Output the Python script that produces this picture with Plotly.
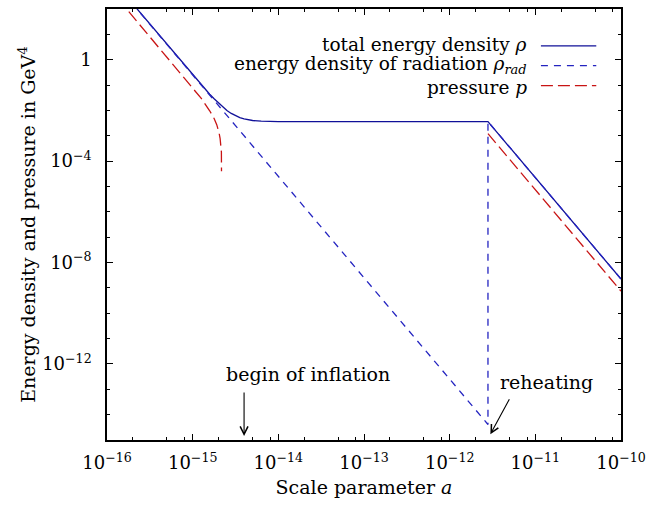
import plotly.graph_objects as go

# ---- data ----
a_total = [1e-16, 1e-15, 1.26e-15, 1.58e-15, 1.78e-15, 2.0e-15, 2.24e-15, 2.51e-15,
           2.82e-15, 3.16e-15, 3.55e-15, 3.98e-15, 4.47e-15, 5.01e-15, 6.31e-15,
           7.94e-15, 1e-14, 1.58e-14, 2.8e-12, 1e-10]
rho_total = [2.5e3, 0.255, 0.1035, 0.0434, 0.0287, 0.0195, 0.0136, 0.0099,
             0.00759, 0.00611, 0.00518, 0.0046, 0.00423, 0.0040, 0.00376,
             0.00366, 0.00362, 0.00363, 0.00363, 2.23e-9]

a_rad = [1e-16, 2.8e-12, 2.8e-12, 1e-10]
rho_rad = [2.5e3, 4.1e-15, 3.63e-3, 2.23e-9]

a_p_early = [1e-16, 6.31e-16, 1e-15, 1.26e-15, 1.58e-15, 1.78e-15, 1.91e-15, 2.0e-15,
             2.04e-15, 2.09e-15, 2.14e-15, 2.165e-15, 2.17e-15]
p_early = [838, 0.525, 0.0802, 0.0297, 0.00966, 0.00478, 0.00275, 0.00168,
           0.00122, 0.000794, 0.000408, 0.000227, 4e-5]
a_p_late = [2.8e-12, 1e-10]
p_late = [1.21e-3, 7.43e-10]

x_tick_exp = [-16, -15, -14, -13, -12, -11, -10]
y_tick_exp = [0, -4, -8, -12]
x_minor_mult = [2, 5, 8]

legend_labels = ["total energy density <i>ρ</i>",
                 "energy density of radiation <i>ρ<sub>rad</sub></i>",
                 "pressure <i>p</i>"]

C_TOT = "#101098"
C_RAD = "#2424c0"
C_P = "#c81414"
FONT = "DejaVu Serif"
FS = 19
FS_TICK = 18

fig = go.Figure()
fig.add_trace(go.Scatter(x=a_total, y=rho_total, mode="lines",
                         line=dict(color=C_TOT, width=1.3), showlegend=False))
fig.add_trace(go.Scatter(x=a_rad, y=rho_rad, mode="lines",
                         line=dict(color=C_RAD, width=1.3, dash="7px,6px"), showlegend=False))
fig.add_trace(go.Scatter(x=a_p_early, y=p_early, mode="lines",
                         line=dict(color=C_P, width=1.3, dash="12px,5px"), showlegend=False))
fig.add_trace(go.Scatter(x=a_p_late, y=p_late, mode="lines",
                         line=dict(color=C_P, width=1.3, dash="12px,5px"), showlegend=False))

def pow_label(e):
    if e == 0:
        return "1"
    return "10<sup>−%d</sup>" % (-e)

x_major = [10.0 ** e for e in x_tick_exp]
x_minor = [m * 10.0 ** e for e in x_tick_exp[:-1] for m in x_minor_mult]
y_major = [10.0 ** e for e in y_tick_exp]
y_minor = [10.0 ** e for e in range(-15, 3) if e not in y_tick_exp]

axis_common = dict(type="log", showline=True, linecolor="black", linewidth=1.5,
                   mirror="allticks", ticks="inside", ticklen=6, tickwidth=1.2,
                   tickcolor="black", showgrid=False, zeroline=False,
                   ticklabeloverflow="allow",
                   tickfont=dict(family=FONT, size=FS_TICK, color="black"))

fig.update_xaxes(range=[-16, -10], tickmode="array", tickvals=x_major,
                 ticktext=[pow_label(e) for e in x_tick_exp],
                 minor=dict(tickmode="array", tickvals=x_minor, ticks="inside",
                            ticklen=3, tickwidth=1, tickcolor="black"),
                 ticklabelstandoff=6,
                 title=dict(text="Scale parameter <i>a</i>",
                            font=dict(family=FONT, size=FS, color="black"), standoff=8),
                 **axis_common)
fig.update_yaxes(range=[-15, 2], tickmode="array", tickvals=y_major,
                 ticktext=[pow_label(e) for e in y_tick_exp],
                 minor=dict(tickmode="array", tickvals=y_minor, ticks="inside",
                            ticklen=3, tickwidth=1, tickcolor="black"),
                 ticklabelstandoff=10,
                 title=dict(text="Energy density and pressure in GeV<sup>4</sup>",
                            font=dict(family=FONT, size=FS, color="black"), standoff=2),
                 **axis_common)

# legend (text right-aligned, sample on the right)
leg_y = [0.9170, 0.8690, 0.8170]
leg_line_y = [0.9145, 0.8684, 0.822]
leg_styles = [dict(color=C_TOT, width=1.3),
              dict(color=C_RAD, width=1.3, dash="7px,6px"),
              dict(color=C_P, width=1.3, dash="12px,5px")]
for lbl, yy, ly, st in zip(legend_labels, leg_y, leg_line_y, leg_styles):
    fig.add_annotation(x=0.821, y=yy, xref="paper", yref="paper", text=lbl,
                       showarrow=False, xanchor="right", yanchor="middle",
                       font=dict(family=FONT, size=18.5, color="black"))
    fig.add_shape(type="line", xref="paper", yref="paper", x0=0.8442, x1=0.9519,
                  y0=ly, y1=ly, line=st)

# annotations with arrows (log coordinates for log axes)
fig.add_annotation(x=-13.653, y=-12.40, xref="x", yref="y", text="begin of inflation",
                   showarrow=False, font=dict(family=FONT, size=FS, color="black"))
fig.add_annotation(x=-14.40, y=-14.84, xref="x", yref="y", ax=-14.40, ay=-13.07,
                   axref="x", ayref="y", text="", showarrow=True, arrowhead=5,
                   arrowsize=1.4, arrowwidth=1.1, arrowcolor="black")
fig.add_annotation(x=-10.871, y=-12.717, xref="x", yref="y", text="reheating",
                   showarrow=False, font=dict(family=FONT, size=FS, color="black"))
fig.add_annotation(x=-11.525, y=-14.776, xref="x", yref="y", ax=-11.294, ay=-13.335,
                   axref="x", ayref="y", text="", showarrow=True, arrowhead=5,
                   arrowsize=1.4, arrowwidth=1.1, arrowcolor="black")

fig.update_layout(width=653, height=505, margin=dict(l=107, r=26, t=7, b=65),
                  plot_bgcolor="white", paper_bgcolor="white",
                  font=dict(family=FONT, size=FS, color="black"))

fig.write_html("out.html")
